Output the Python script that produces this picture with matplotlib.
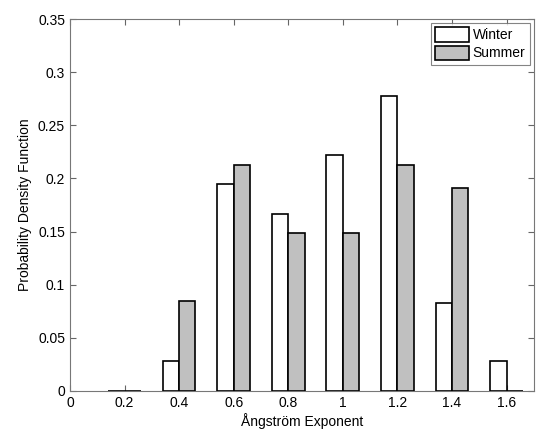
import matplotlib
matplotlib.use("Agg")
import matplotlib.pyplot as plt
import numpy as np

categories = [0.2, 0.4, 0.6, 0.8, 1.0, 1.2, 1.4, 1.6]
winter = [0.0, 0.028, 0.195, 0.167, 0.222, 0.278, 0.083, 0.028]
summer = [0.0, 0.085, 0.213, 0.149, 0.149, 0.213, 0.191, 0.0]
xticks = [0, 0.2, 0.4, 0.6, 0.8, 1.0, 1.2, 1.4, 1.6]
xticklabels = ["0", "0.2", "0.4", "0.6", "0.8", "1", "1.2", "1.4", "1.6"]
yticks = [0, 0.05, 0.1, 0.15, 0.2, 0.25, 0.3, 0.35]
yticklabels = ["0", "0.05", "0.1", "0.15", "0.2", "0.25", "0.3", "0.35"]

plt.rcParams['font.family'] = ['Liberation Sans', 'DejaVu Sans']
plt.rcParams['font.size'] = 10

fig = plt.figure(figsize=(5.4, 4.34), dpi=100)
ax = fig.add_axes([0.1296, 0.0991, 0.859, 0.857])
ax.set_axisbelow(True)

w = 0.06
x = np.array(categories)
ax.bar(x - w / 2, winter, width=w, color='white', edgecolor='black', linewidth=1.2, label='Winter', zorder=3)
ax.bar(x + w / 2, summer, width=w, color='#c0c0c0', edgecolor='black', linewidth=1.2, label='Summer', zorder=3)

ax.set_xlim(0, 1.7)
ax.set_ylim(0, 0.35)
ax.set_xticks(xticks)
ax.set_xticklabels(xticklabels)
ax.set_yticks(yticks)
ax.set_yticklabels(yticklabels)
ax.tick_params(direction='in', top=True, right=True, length=4, width=0.8, color='#666666', labelsize=10)
for s in ax.spines.values():
    s.set_color('#777777')
    s.set_linewidth(0.8)

ax.set_xlabel('Ångström Exponent', fontsize=10, labelpad=2)
ax.set_ylabel('Probability Density Function', fontsize=10, labelpad=4)

leg = ax.legend(loc='upper right', fancybox=False, frameon=True, handlelength=2.4, handleheight=1.2,
                handletextpad=0.3, borderpad=0.3, labelspacing=0.25, borderaxespad=0.3, fontsize=10)
leg.get_frame().set_edgecolor('#666666')
leg.get_frame().set_linewidth(0.8)

fig.savefig('out.png', dpi=100)
